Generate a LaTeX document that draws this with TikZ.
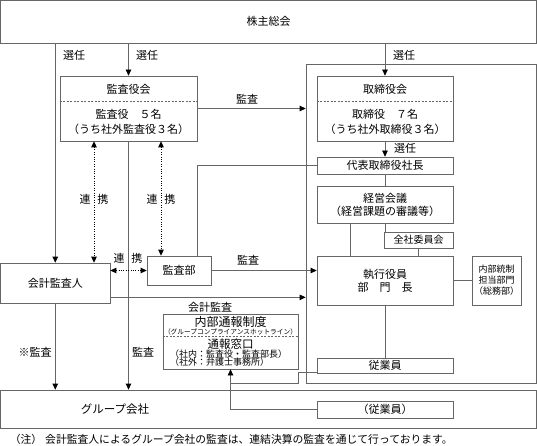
\documentclass[tikz,border=0pt]{standalone}
\usepackage{fontspec}
\setmainfont{Noto Sans CJK JP}
\usetikzlibrary{arrows.meta,calc}

\begin{document}
\begin{tikzpicture}[x=1pt,y=-1pt,
    box/.style={draw=black!60,line width=0.7pt,inner sep=0pt,align=center,font=\fontsize{11}{13}\selectfont},
    conn/.style={draw=black!60,line width=0.7pt},
    arr/.style={conn,-{Triangle[length=6pt,width=5.5pt,color=black]}},
    link/.style={black,line width=1pt,dash pattern=on 1pt off 1.4pt,{Triangle[length=6pt,width=5.5pt]}-{Triangle[length=6pt,width=5.5pt]}},
    split/.style={draw=black!60,line width=0.6pt,dash pattern=on 2pt off 1.5pt},
    lbl/.style={inner sep=0pt,align=center,font=\fontsize{11}{13}\selectfont}]
  \useasboundingbox (0,0) rectangle (537,446);

  % boxes
  \node[box,minimum width=536pt,minimum height=42.5pt] (soukai) at (268.5,21.75) {株主総会};
  \node[box,minimum width=230.5pt,minimum height=319pt] (company) at (421.25,223.5) {};
  \node[box,minimum width=137pt,minimum height=65pt] (kansayakukai) at (128.5,108.5) {};
  \node[box,minimum width=136pt,minimum height=65pt] (torishimari) at (385,108.5) {};
  \node[box,minimum width=136pt,minimum height=17pt] (shacho) at (385,165.5) {代表取締役社長};
  \node[box,minimum width=136pt,minimum height=37pt] (keiei) at (385,204.5) {経営会議\\（経営課題の審議等）};
  \node[box,minimum width=69pt,minimum height=16pt,font=\fontsize{10}{12}\selectfont] (iinkai) at (418.5,240) {全社委員会};
  \node[box,minimum width=136pt,minimum height=49pt] (shikko) at (385,280.5) {執行役員\\部　門　長};
  \node[box,minimum width=49pt,minimum height=49pt,font=\fontsize{9}{11}\selectfont] (naibu) at (496.5,280.5) {内部統制\\担当部門\\（総務部）};
  \node[box,minimum width=136pt,minimum height=15pt] (jugyoin) at (385,365.5) {従業員};
  \node[box,minimum width=109.5pt,minimum height=40pt] (kaikei) at (55.25,283) {会計監査人};
  \node[box,minimum width=64pt,minimum height=29pt] (kansabu) at (179,270.5) {監査部};
  \node[box,minimum width=135pt,minimum height=55pt] (tsuho) at (230.5,341.5) {};
  \node[box,minimum width=536pt,minimum height=38pt] (group) at (268.5,409) {};
  \node[box,minimum width=136pt,minimum height=17pt] (gjugyoin) at (385,409.5) {（従業員）};

  % texts inside split boxes
  \node[lbl] (kyk-title) at (128.5,89) {監査役会};
  \node[lbl,font=\fontsize{11}{15}\selectfont] (kyk-body) at (128.5,121.5) {監査役　５名\\（うち社外監査役３名）};
  \draw[split] ($(kansayakukai.north west)+(0,26)$) -- ($(kansayakukai.north east)+(0,26)$);
  \node[lbl] (trk-title) at (385,89) {取締役会};
  \node[lbl,font=\fontsize{11}{15}\selectfont] (trk-body) at (385,121.5) {取締役　７名\\（うち社外取締役３名）};
  \draw[split] ($(torishimari.north west)+(0,26)$) -- ($(torishimari.north east)+(0,26)$);
  \node[lbl,font=\fontsize{12}{13}\selectfont] (tsuho-title) at (230.5,322) {内部通報制度};
  \node[lbl,font=\fontsize{6.7}{7}\selectfont] (tsuho-sub) at (230.5,331.5) {（グループコンプライアンスホットライン）};
  \draw[split] ($(tsuho.north west)+(0,23)$) -- ($(tsuho.north east)+(0,23)$);
  \node[lbl,font=\fontsize{11.5}{13}\selectfont] (madoguchi) at (230.5,344) {通報窓口};
  \node[lbl,anchor=west,font=\fontsize{9}{9}\selectfont] (shanai) at (170,354) {（社内：監査役・監査部長）};
  \node[lbl,anchor=west,font=\fontsize{9}{9}\selectfont] (shagai) at (170,362.5) {（社外：弁護士事務所）};
  \node[lbl,font=\fontsize{11.5}{13}\selectfont] (group-lbl) at (115,409) {グループ会社};

  % connectors
  \draw[arr] (kaikei.north |- soukai.south) -- (kaikei.north);
  \draw[arr] (kansayakukai.north |- soukai.south) -- (kansayakukai.north);
  \draw[arr] (torishimari.north |- soukai.south) -- (torishimari.north);
  \draw[arr] (kansayakukai.east) -- (kansayakukai.east -| company.west);
  \draw[arr] (torishimari.south) -- (shacho.north);
  \draw[conn] (shacho.south) -- (keiei.north);
  \draw[conn] ($(keiei.south west)!0.25!(keiei.south east)$) -- ($(shikko.north west)!0.25!(shikko.north east)$);
  \draw[conn] (keiei.south) -- (keiei.south |- iinkai.north);
  \draw[conn] (iinkai.south) -- (iinkai.south |- shikko.north);
  \draw[conn] (shikko.east) -- (naibu.west);
  \draw[conn] (shikko.south) -- (jugyoin.north);
  \draw[arr] (kansabu.east) -- (kansabu.east -| shikko.west);
  \draw[conn] ([xshift=-14pt]kansabu.north east) |- (shacho.west);
  \coordinate (ka) at ([yshift=6pt]kaikei.south east);
  \draw[arr] (ka) -- (ka -| company.west);
  \draw[arr] (kaikei.south) -- (kaikei.south |- group.north);
  \draw[arr] (kansayakukai.south) -- (kansayakukai.south |- group.north);
  \draw[conn] ([yshift=1pt]jugyoin.south west) -| (tsuho.east |- company.south) -- (tsuho.south |- company.south);
  \draw[arr] (gjugyoin.west) -| (tsuho.south);

  % cooperation links
  \coordinate (d1) at (94,0);
  \coordinate (d2) at (161,0);
  \draw[link] (d1 |- kansayakukai.south) -- (d1 |- kaikei.north);
  \draw[link] (d2 |- kansayakukai.south) -- (d2 |- kansabu.north);
  \draw[link] (kansabu.west -| kaikei.east) -- (kansabu.west);

  % labels
  \node[lbl] (sen1) at (74,55) {選任};
  \node[lbl] (sen2) at (147,55) {選任};
  \node[lbl] (sen3) at (404,55) {選任};
  \node[lbl] (sen4) at (405,148) {選任};
  \node[lbl] (kansa1) at (247,99) {監査};
  \node[lbl] (kansa2) at (248,260) {監査};
  \node[lbl] (kaikeikansa) at (210,307) {会計監査};
  \node[lbl] (kansa3) at (35,352) {※監査};
  \node[lbl] (kansa4) at (143,352) {監査};
  \node[lbl] (renkei1) at (94,199) {連\hspace{7pt}携};
  \node[lbl] (renkei2) at (161,199) {連\hspace{7pt}携};
  \node[lbl] (renkei3) at (128,258) {連\hspace{7pt}携};

  % footnote
  \node[lbl,font=\fontsize{10.8}{12}\selectfont] (note-mark) at (26,439) {（注）};
  \node[lbl,anchor=west,font=\fontsize{10.8}{12}\selectfont] (note) at (45,439) {会計監査人によるグループ会社の監査は、連結決算の監査を通じて行っております。};
\end{tikzpicture}
\end{document}
